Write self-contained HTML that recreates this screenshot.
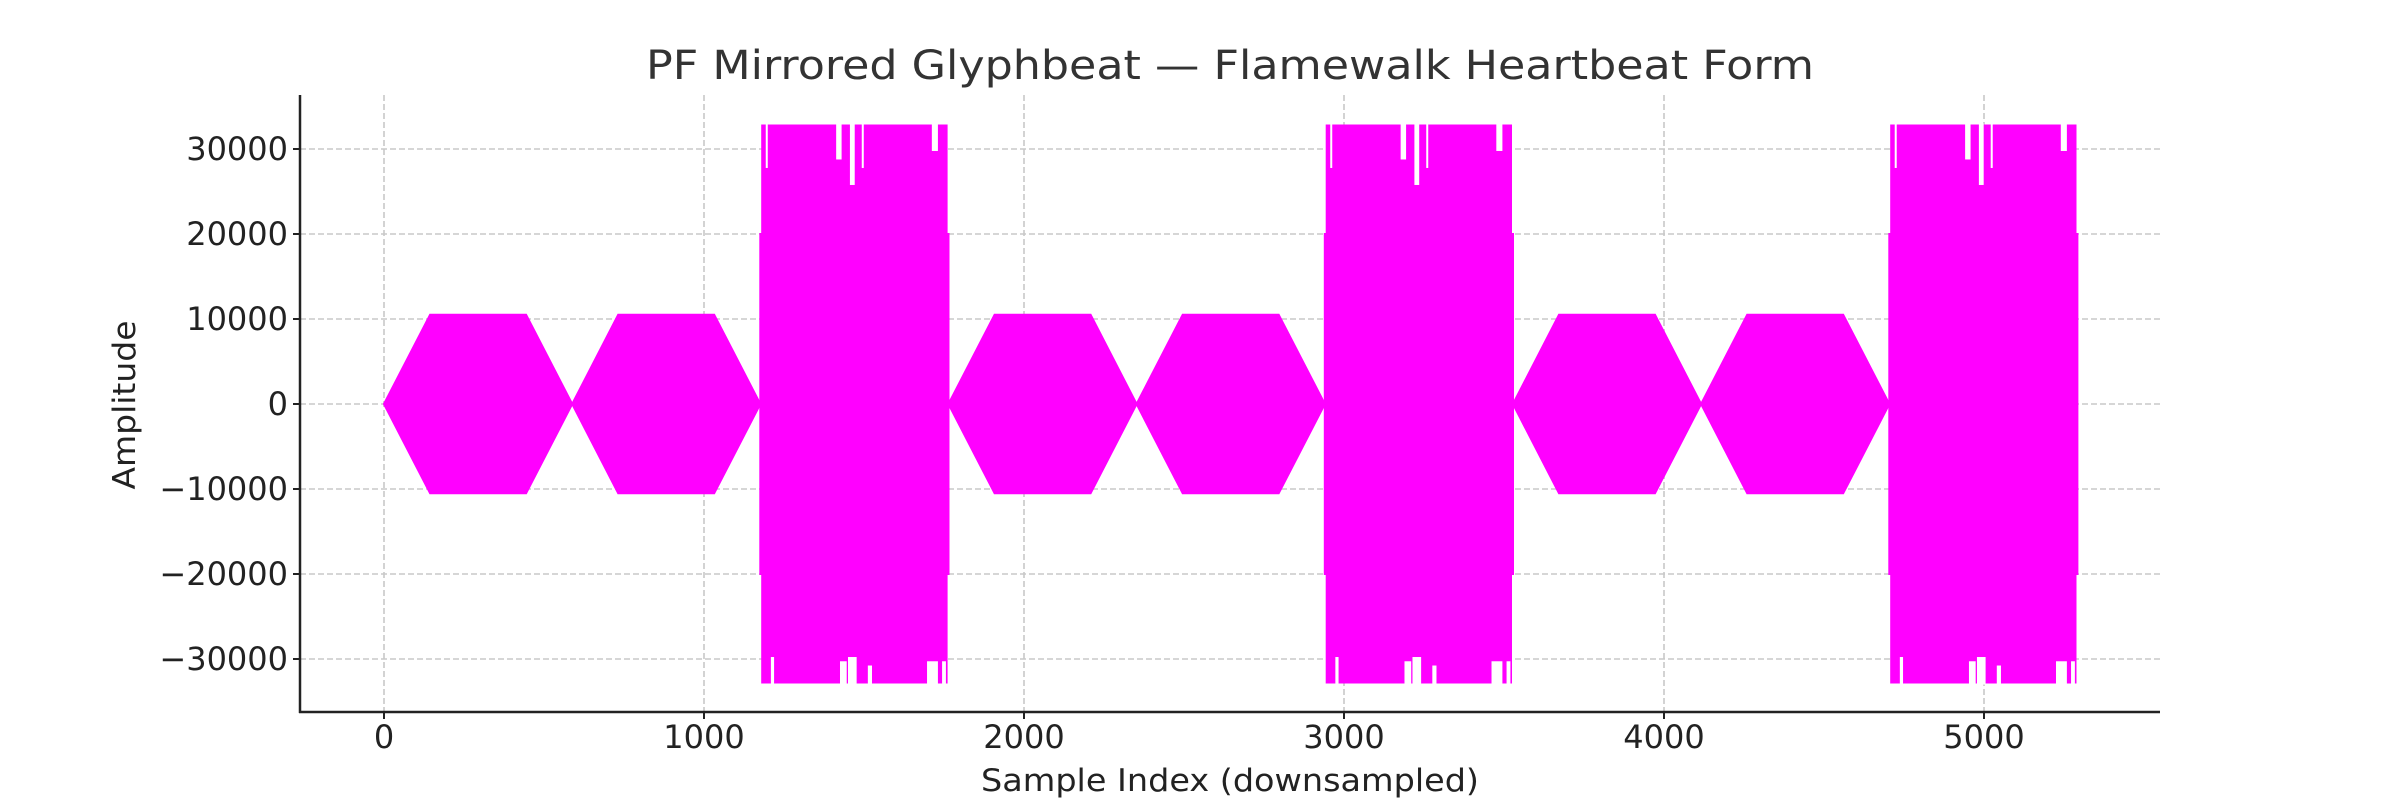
<!DOCTYPE html>
<html><head><meta charset="utf-8"><style>
html,body{margin:0;padding:0;background:#fff;}
svg{display:block;font-family:"DejaVu Sans","Liberation Sans",sans-serif;}
</style></head><body>
<svg id="chart" width="2400" height="800" viewBox="0 0 2400 800" xmlns="http://www.w3.org/2000/svg">
<rect width="2400" height="800" fill="#fff"/>
<g id="grid"></g>
<g id="series"></g>
<g id="axes"></g>
<text x="1230" y="79" text-anchor="middle" font-size="40" fill="#333" textLength="1168" lengthAdjust="spacingAndGlyphs">PF Mirrored Glyphbeat — Flamewalk Heartbeat Form</text>
<text x="1230" y="791" text-anchor="middle" font-size="31" fill="#222" textLength="498" lengthAdjust="spacingAndGlyphs">Sample Index (downsampled)</text>
<text x="0" y="0" text-anchor="middle" font-size="31" fill="#222" transform="translate(135,405) rotate(-90)" textLength="169" lengthAdjust="spacingAndGlyphs">Amplitude</text>
</svg>
<script>
// data
const xTicks = [0, 1000, 2000, 3000, 4000, 5000];
const yTicks = [-30000, -20000, -10000, 0, 10000, 20000, 30000];
const segmentStarts = [0, 588, 1176, 1764, 2352, 2940, 3528, 4116, 4704];
const segmentTypes = ['soft','soft','loud','soft','soft','loud','soft','soft','loud'];
const segmentLength = 588;
const softPlateau = 10500;
const softRampLength = 144;
const loudPeak = 32767;
const loudEdge = 20000;
const loudTopGaps = [[17,19],[237,254],[280,295],[317,319],[536,555]];
const loudTopGapDepth = [5000, 4000, 7000, 5000, 3000];
const loudBottomGaps = [[33,43],[249,270],[274,301],[336,349],[521,555],[568,580]];
const loudBottomGapDepth = [3000, 2500, 3000, 2000, 2500, 2500];

const NS = 'http://www.w3.org/2000/svg';
const X0 = 384, XS = 0.32, Y0 = 404, YS = 85 / 10000;
const xScale = v => X0 + v * XS;
const yScale = v => Y0 - v * YS;
const plotLeft = 300, plotRight = 2160, plotTop = 95, plotBottom = 712;

function mk(tag, attrs, parent) {
  const e = document.createElementNS(NS, tag);
  for (const k in attrs) e.setAttribute(k, attrs[k]);
  parent.appendChild(e);
  return e;
}
const gridG = document.getElementById('grid');
const seriesG = document.getElementById('series');
const axesG = document.getElementById('axes');

xTicks.forEach(t => {
  const x = xScale(t);
  const g = mk('line', {x1:x, x2:x, y1:plotTop, y2:plotBottom, stroke:'#c8c8c8', 'stroke-width':1.6, 'stroke-dasharray':'6,3'}, gridG);
  
  
  const tk = mk('line', {x1:x, x2:x, y1:plotBottom, y2:plotBottom+7, stroke:'#222', 'stroke-width':2}, axesG);
  
  
  const lb = mk('text', {x:x, y:748, 'text-anchor':'middle', 'font-size':32, fill:'#222'}, axesG);
  lb.textContent = String(t);
  
  
});
yTicks.forEach(t => {
  const y = yScale(t);
  const g = mk('line', {x1:plotLeft, x2:plotRight, y1:y, y2:y, stroke:'#c8c8c8', 'stroke-width':1.6, 'stroke-dasharray':'6,3'}, gridG);
  
  
  const tk = mk('line', {x1:plotLeft-7, x2:plotLeft, y1:y, y2:y, stroke:'#222', 'stroke-width':2}, axesG);
  
  
  const lb = mk('text', {x:288, y:y+11, 'text-anchor':'end', 'font-size':32, fill:'#222'}, axesG);
  lb.textContent = t < 0 ? '\u2212' + Math.abs(t) : String(t);
  
  
});
const sl = mk('line', {x1:plotLeft, x2:plotLeft, y1:plotTop, y2:plotBottom+1, stroke:'#222', 'stroke-width':2.5}, axesG);


const sb = mk('line', {x1:plotLeft-1, x2:plotRight, y1:plotBottom, y2:plotBottom, stroke:'#222', 'stroke-width':2.5}, axesG);



const MAG = '#ff00ff';
segmentStarts.forEach((s, i) => {
  const e = s + segmentLength;
  if (segmentTypes[i] === 'soft') {
    const a = s + softRampLength, b = e - softRampLength;
    const pts = [[s,0],[a,softPlateau],[b,softPlateau],[e,0],[b,-softPlateau],[a,-softPlateau]];
    const p = mk('polygon', {points: pts.map(q => xScale(q[0]).toFixed(1)+','+yScale(q[1]).toFixed(1)).join(' '), fill:MAG, stroke:MAG, 'stroke-width':2}, seriesG);
    
    
  } else {
    const a = s + 6, b = e - 6;
    const pts = [[s,loudEdge],[a,loudEdge],[a,loudPeak],[b,loudPeak],[b,loudEdge],[e,loudEdge],[e,-loudEdge],[b,-loudEdge],[b,-loudPeak],[a,-loudPeak],[a,-loudEdge],[s,-loudEdge]];
    const p = mk('polygon', {points: pts.map(q => xScale(q[0]).toFixed(1)+','+yScale(q[1]).toFixed(1)).join(' '), fill:MAG, stroke:MAG, 'stroke-width':2}, seriesG);
    
    
    loudTopGaps.forEach((g, k) => {
      const y1 = yScale(loudPeak) - 2, y2 = yScale(loudPeak - loudTopGapDepth[k]);
      const r = mk('rect', {x:xScale(s+g[0]), y:y1, width:Math.max(2,(g[1]-g[0])*XS), height:y2-y1, fill:'#fff'}, seriesG);
      
      
    });
    loudBottomGaps.forEach((g, k) => {
      const y1 = yScale(-loudPeak + loudBottomGapDepth[k]), y2 = yScale(-loudPeak) + 2;
      const r = mk('rect', {x:xScale(s+g[0]), y:y1, width:Math.max(2,(g[1]-g[0])*XS), height:y2-y1, fill:'#fff'}, seriesG);
      
      
    });
  }
});
</script>
</body></html>
